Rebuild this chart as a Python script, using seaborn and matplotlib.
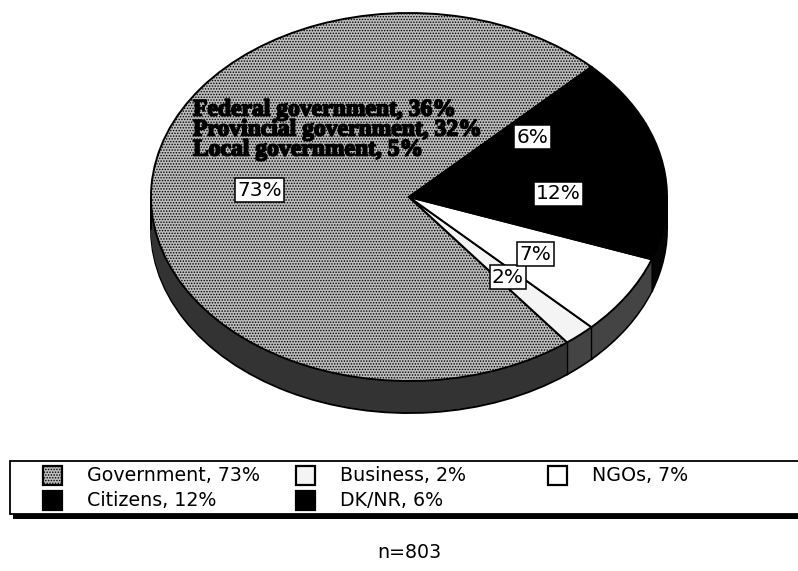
import matplotlib
matplotlib.use("Agg")
import matplotlib.pyplot as plt
import matplotlib.patheffects as pe
from matplotlib.patches import Rectangle
import numpy as np
import pandas as pd
import seaborn as sns

# Who should be responsible (share of respondents, %)
categories = ["Government", "Business", "NGOs", "Citizens", "DK/NR"]
shares = [73, 2, 7, 12, 6]

# Breakdown of the government share
gov_levels = ["Federal government", "Provincial government", "Local government"]
gov_shares = [36, 32, 5]

sample_size = 803

# Styling per slice (same order as categories)
top_fill = ["#bdbdbd", "#f4f4f4", "#ffffff", "#000000", "#000000"]
top_hatch = ["......", "", "", "", ""]
side_fill = ["#333333", "#444444", "#444444", "#050505", "#050505"]

W, H, DPI = 798, 571, 100
sns.set_theme(style="white", rc={"hatch.linewidth": 0.7})
plt.rcParams["font.family"] = ["DejaVu Sans"]
plt.rcParams["text.color"] = "black"

fig = plt.figure(figsize=(W / DPI, H / DPI), dpi=DPI, facecolor="white")

# Pie geometry in pixels: centre, horizontal/vertical radii, rim depth
CX, CY, RX, RY, DEPTH = 409, 197, 258, 184, 32
START = 45

ax = fig.add_axes([0, 0, 1, 1])
df = pd.DataFrame({"category": categories, "share": shares})

# Extruded rim: a stack of pies stepping down one pixel at a time
for k in range(DEPTH, 0, -1):
    bottom = k == DEPTH
    ax.pie(df["share"], colors=side_fill, startangle=START, counterclock=True,
           radius=1.0, center=(0, -k / RY),
           wedgeprops=dict(linewidth=1.4 if bottom else 0,
                           edgecolor="black" if bottom else "none"))

# Vertical seams on the rim where slice boundaries meet the front edge
bounds = START + 360 * np.cumsum([0] + shares[:-1]) / sum(shares)
for b in np.deg2rad(bounds):
    if np.sin(b) < 0:
        ax.plot([np.cos(b)] * 2, [np.sin(b), np.sin(b) - DEPTH / RY],
                color="black", lw=1.0)
for side in (-1, 1):
    ax.plot([side, side], [0, -DEPTH / RY], color="black", lw=1.4)

# Top face with boxed percentage labels
wedges, texts, autotexts = ax.pie(
    df["share"], colors=top_fill, hatch=top_hatch, startangle=START,
    counterclock=True, radius=1.0, center=(0, 0),
    autopct=lambda p: f"{p:.0f}%", pctdistance=0.58,
    wedgeprops=dict(linewidth=1.4, edgecolor="black"),
    textprops=dict(fontsize=14.5, color="black"))
for t in autotexts:
    t.set_bbox(dict(boxstyle="square,pad=0.12", fc="white", ec="black", lw=1.1))

ax.set_aspect("auto")
ax.set_xlim(-CX / RX, (W - CX) / RX)
ax.set_ylim((CY - H) / RY, CY / RY)
ax.axis("off")

# Overlay in pixel coordinates for annotations and the legend
ov = fig.add_axes([0, 0, 1, 1])
ov.set_xlim(0, W)
ov.set_ylim(H, 0)
ov.axis("off")

heavy = [pe.withStroke(linewidth=1.2, foreground="black")]
for i, (lab, v) in enumerate(zip(gov_levels, gov_shares)):
    ov.text(193, 110 + 20 * i, f"{lab}, {v}%", family="Liberation Serif",
            fontweight="bold", fontsize=17, ha="left", va="center",
            color="black", path_effects=heavy)

# Legend box with drop shadow
ov.add_patch(Rectangle((13, 514), 820, 4.5, fc="black", ec="none"))
ov.add_patch(Rectangle((10, 461), 820, 53, fc="white", ec="black", lw=1.3))

col_x = [43, 296, 548]
row_y = [466, 491]
for i, (cat, v) in enumerate(zip(categories, shares)):
    r, c = divmod(i, 3)
    ov.add_patch(Rectangle((col_x[c], row_y[r]), 19, 19, fc=top_fill[i],
                           hatch=top_hatch[i], ec="black", lw=1.6))
    ov.text(col_x[c] + 44, row_y[r] + 9.5, f"{cat}, {v}%", fontsize=13.7,
            ha="left", va="center", color="black")

ov.text(409, 553, f"n={sample_size}", fontsize=13.7, ha="center", va="center",
        color="black")

fig.savefig("out.png", dpi=DPI, facecolor="white")
